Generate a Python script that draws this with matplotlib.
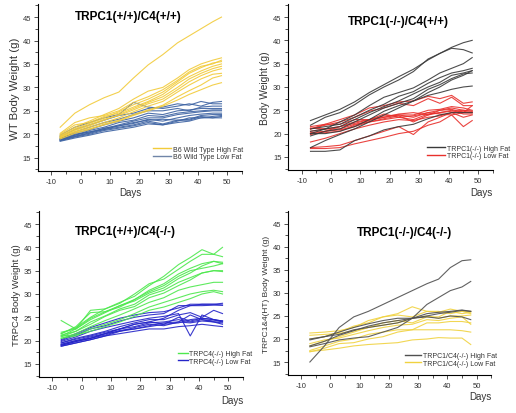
import numpy as np
import matplotlib
matplotlib.use("Agg")
import matplotlib.pyplot as plt
from matplotlib.lines import Line2D
from matplotlib.ticker import MultipleLocator

plt.rcParams['font.family'] = ['Liberation Sans', 'DejaVu Sans']
plt.rcParams['axes.unicode_minus'] = False

days = [-7, -2, 3, 8, 13, 18, 23, 28, 33, 37, 41, 45, 48]

# TRPC1(+/+)/C4(+/+)
wt_high = [
    [21.5, 24.5, 26.3, 27.8, 29.0, 32.0, 34.8, 37.0, 39.5, 41.0, 42.5, 44.0, 45.0],
    [19.8, 21.5, 22.8, 24.2, 25.5, 27.5, 29.2, 30.0, 32.0, 33.8, 35.0, 35.8, 36.3],
    [19.5, 21.2, 22.3, 23.5, 24.8, 26.3, 27.5, 29.0, 31.2, 33.0, 34.2, 35.2, 35.5],
    [20.0, 22.0, 22.5, 23.8, 24.5, 25.8, 27.0, 28.5, 30.8, 32.3, 33.5, 34.5, 35.0],
    [19.2, 20.8, 21.8, 23.0, 24.2, 25.5, 26.8, 28.0, 30.0, 31.8, 33.0, 34.0, 34.5],
    [19.6, 21.0, 22.0, 23.2, 24.0, 25.2, 26.5, 27.5, 29.5, 31.2, 32.5, 33.5, 34.0],
    [19.4, 20.5, 21.5, 22.5, 23.5, 24.8, 26.0, 27.0, 29.0, 30.5, 31.8, 32.8, 33.0],
    [19.0, 20.2, 21.0, 22.2, 23.0, 24.2, 25.2, 26.2, 28.0, 29.3, 30.5, 32.0, 32.5],
    [19.3, 20.5, 21.2, 22.0, 22.8, 24.0, 25.0, 26.0, 27.3, 28.5, 29.5, 30.5, 31.0],
    [20.2, 22.5, 23.5, 24.0, 25.0, 26.8, 28.0, 29.5, 31.5, 33.3, 34.5, 35.0, 35.8],
]
wt_low = [
    [19.8, 21.5, 22.5, 23.5, 24.2, 26.8, 25.8, 25.5, 26.0, 26.5, 26.0, 26.8, 27.0],
    [19.5, 21.0, 22.0, 23.0, 24.0, 24.5, 25.5, 25.8, 26.5, 26.2, 27.0, 26.5, 26.5],
    [19.0, 20.5, 21.5, 22.5, 23.2, 24.2, 25.0, 25.0, 25.5, 25.0, 25.8, 26.0, 26.0],
    [19.2, 20.2, 21.0, 22.0, 22.8, 23.5, 24.5, 24.2, 25.0, 25.2, 25.5, 25.5, 25.5],
    [18.8, 19.8, 20.8, 21.5, 22.5, 23.0, 24.0, 23.8, 24.5, 24.8, 25.0, 25.2, 25.2],
    [19.0, 20.0, 20.5, 21.2, 22.0, 22.8, 23.5, 23.5, 24.2, 24.5, 24.8, 25.0, 25.0],
    [18.7, 19.5, 20.2, 21.0, 21.8, 22.3, 23.2, 22.8, 23.5, 24.0, 24.3, 24.5, 24.5],
    [18.9, 19.8, 20.5, 21.0, 21.5, 22.0, 22.8, 22.2, 23.0, 23.2, 24.0, 24.2, 24.2],
    [18.6, 19.4, 20.0, 20.8, 21.3, 21.8, 22.5, 22.0, 22.8, 23.5, 23.5, 23.8, 24.0],
    [18.8, 19.6, 20.3, 21.3, 21.8, 22.5, 23.0, 23.2, 23.0, 23.0, 23.8, 23.5, 23.8],
    [18.5, 19.2, 19.8, 20.5, 21.0, 21.5, 22.2, 22.0, 22.5, 22.8, 23.5, 23.5, 23.5],
]

# TRPC1(-/-)/C4(+/+)
c1_high = [
    [22.8, 24.0, 25.2, 26.8, 28.8, 30.5, 32.2, 33.8, 35.8, 37.2, 38.5, 39.5, 40.0],
    [21.8, 23.5, 24.5, 26.2, 28.3, 30.0, 31.5, 33.3, 36.0, 37.2, 38.3, 38.0, 37.3],
    [20.0, 21.0, 22.5, 24.0, 26.0, 27.8, 28.8, 29.8, 31.5, 33.0, 34.0, 35.0, 36.3],
    [21.0, 21.5, 22.0, 23.5, 25.0, 26.3, 28.0, 29.0, 30.8, 32.0, 33.0, 33.5, 34.0],
    [20.5, 21.0, 21.5, 23.0, 24.5, 25.8, 27.0, 28.5, 30.0, 31.0, 32.5, 33.0, 33.5],
    [19.5, 20.5, 21.0, 22.5, 24.0, 25.5, 26.5, 27.5, 29.5, 30.5, 31.8, 32.8, 33.0],
    [20.0, 20.0, 20.5, 21.5, 23.0, 24.8, 26.0, 27.0, 28.2, 28.8, 29.5, 30.0, 30.2],
    [16.2, 16.2, 16.5, 18.5, 19.5, 20.8, 21.5, 22.0, 23.2, 24.0, 24.5, 24.5, 24.5],
    [17.0, 18.5, 19.8, 21.0, 22.5, 24.0, 25.5, 27.0, 28.8, 30.0, 31.5, 32.5, 33.5],
]
c1_low = [
    [21.5, 22.0, 23.0, 24.0, 25.5, 26.0, 26.8, 27.0, 28.0, 27.5, 28.2, 26.5, 26.8],
    [21.0, 21.8, 22.5, 23.5, 24.8, 25.5, 26.5, 26.0, 27.5, 26.5, 27.8, 26.0, 26.0],
    [20.5, 21.0, 21.5, 22.5, 23.0, 23.8, 24.0, 24.0, 25.0, 25.2, 25.8, 25.5, 25.0],
    [20.2, 20.5, 21.5, 22.2, 23.0, 23.5, 24.0, 23.5, 24.5, 25.0, 25.5, 25.0, 24.8],
    [21.2, 21.0, 21.0, 22.0, 22.5, 23.2, 23.8, 22.5, 24.0, 25.0, 25.2, 24.5, 24.5],
    [19.8, 20.5, 20.8, 21.5, 22.5, 23.0, 23.5, 23.0, 24.2, 24.5, 25.0, 24.2, 24.2],
    [20.0, 20.2, 20.5, 21.8, 22.8, 23.5, 24.2, 24.5, 24.0, 24.5, 24.8, 25.0, 24.8],
    [18.2, 19.0, 20.0, 21.0, 21.8, 22.5, 23.0, 22.8, 23.5, 23.8, 24.5, 24.8, 24.5],
    [17.0, 17.2, 17.5, 18.5, 19.5, 20.5, 21.5, 19.8, 22.5, 23.5, 24.5, 23.5, 24.0],
    [16.8, 16.8, 17.0, 17.8, 18.5, 19.2, 20.0, 20.5, 21.8, 22.5, 24.0, 21.5, 22.8],
    [21.0, 22.0, 22.0, 23.0, 23.0, 24.2, 23.5, 23.8, 24.5, 24.2, 24.0, 24.5, 26.0],
]

# TRPC1(+/+)/C4(-/-)
c4_high = [
    [24.3, 22.5, 26.5, 26.8, 28.2, 29.5, 31.8, 33.8, 36.3, 37.8, 39.5, 38.5, 40.0],
    [21.5, 22.8, 25.0, 26.8, 28.0, 30.0, 32.2, 33.2, 35.3, 37.0, 38.5, 38.5, 38.0],
    [21.0, 22.5, 24.5, 26.0, 27.5, 28.8, 30.8, 32.2, 34.3, 35.5, 36.5, 37.0, 36.5],
    [21.5, 23.0, 26.0, 26.2, 27.5, 28.5, 30.2, 31.3, 33.3, 34.5, 36.0, 37.0, 36.8],
    [20.8, 22.0, 24.0, 25.3, 26.8, 27.8, 29.8, 30.8, 32.5, 33.5, 34.5, 35.0, 35.0],
    [21.2, 22.0, 23.5, 25.2, 26.5, 27.3, 29.2, 30.2, 31.8, 33.0, 34.5, 35.0, 34.8],
    [20.5, 21.5, 23.0, 24.3, 25.5, 26.8, 28.2, 29.2, 30.8, 31.5, 32.0, 32.5, 32.5],
    [20.5, 21.0, 22.5, 23.5, 24.5, 25.8, 27.2, 28.2, 29.2, 30.0, 30.5, 30.8, 30.5],
    [21.0, 21.2, 22.0, 23.0, 24.0, 25.2, 26.5, 27.2, 28.2, 29.0, 30.0, 30.5, 30.0],
    [21.8, 22.5, 24.8, 26.2, 27.2, 28.8, 30.5, 31.8, 33.8, 35.0, 35.5, 36.0, 36.5],
]
c4_low = [
    [20.2, 21.5, 22.8, 23.8, 24.8, 25.5, 26.0, 26.2, 27.0, 27.8, 27.8, 27.8, 28.0],
    [20.0, 21.2, 22.5, 23.2, 24.2, 25.0, 25.5, 25.8, 27.5, 27.5, 27.5, 27.6, 27.6],
    [19.8, 20.8, 22.0, 22.8, 23.5, 24.2, 24.8, 25.2, 25.8, 21.0, 25.5, 24.5, 24.2],
    [19.5, 20.5, 21.2, 22.0, 23.0, 23.8, 24.5, 24.5, 25.5, 26.0, 25.0, 26.5, 25.8],
    [19.5, 20.3, 21.0, 21.8, 22.5, 23.5, 24.0, 23.5, 25.0, 24.2, 24.8, 24.5, 24.0],
    [19.2, 20.0, 20.8, 21.5, 22.5, 23.0, 23.8, 24.0, 24.5, 24.0, 24.5, 24.2, 24.2],
    [19.0, 19.8, 20.5, 21.5, 22.0, 22.8, 23.5, 23.2, 24.0, 23.8, 24.2, 24.0, 23.5],
    [19.0, 19.8, 20.5, 21.2, 22.2, 22.5, 23.2, 23.8, 24.0, 25.5, 24.5, 24.0, 23.8],
    [18.8, 19.5, 20.2, 21.0, 21.5, 22.0, 22.5, 22.5, 23.0, 23.2, 23.5, 23.2, 23.0],
    [19.2, 20.0, 20.5, 21.5, 22.5, 23.5, 24.0, 24.8, 26.5, 27.5, 27.8, 27.8, 27.6],
    [18.8, 19.5, 20.2, 21.0, 22.0, 22.5, 23.0, 23.5, 23.8, 24.5, 24.8, 24.5, 24.2],
]

# TRPC1(-/-)/C4(-/-)
dko_high = [
    [15.0, 18.5, 22.5, 24.8, 26.0, 27.5, 29.0, 30.5, 32.0, 33.0, 35.5, 37.0, 37.2],
    [18.3, 19.0, 19.8, 20.2, 20.5, 21.5, 22.5, 24.5, 27.5, 29.0, 30.5, 31.3, 32.5],
    [20.0, 20.5, 21.5, 22.5, 23.3, 24.0, 24.5, 24.5, 25.0, 25.5, 25.8, 26.2, 26.0],
    [18.5, 19.5, 20.8, 21.8, 22.8, 23.5, 24.0, 24.5, 24.8, 24.5, 25.0, 24.8, 24.2],
    [19.8, 20.5, 21.0, 22.0, 22.5, 23.0, 23.5, 24.5, 25.5, 25.8, 26.0, 26.3, 26.0],
]
dko_low = [
    [21.3, 21.5, 21.8, 22.5, 24.0, 24.8, 25.2, 24.8, 26.0, 25.8, 26.5, 26.0, 26.0],
    [20.0, 20.5, 21.5, 22.8, 23.5, 24.8, 25.5, 27.0, 26.0, 26.0, 25.5, 26.0, 25.5],
    [18.5, 19.5, 20.5, 21.5, 22.5, 23.0, 23.5, 24.5, 25.0, 24.5, 25.0, 25.0, 25.2],
    [19.0, 19.8, 20.2, 21.0, 21.8, 22.5, 23.0, 23.2, 24.2, 24.0, 24.5, 24.8, 23.2],
    [17.5, 18.5, 19.5, 20.0, 21.0, 21.5, 22.0, 22.0, 23.5, 23.5, 23.8, 23.8, 23.5],
    [17.2, 18.0, 19.0, 19.2, 20.0, 20.5, 21.5, 22.0, 22.0, 22.0, 22.0, 21.8, 21.5],
    [17.3, 17.6, 18.0, 18.5, 18.8, 19.0, 19.2, 19.8, 20.0, 20.3, 20.2, 20.2, 18.8],
    [20.8, 21.0, 21.2, 21.8, 22.5, 23.5, 24.0, 23.5, 24.8, 24.8, 26.0, 25.5, 25.8],
]

panels = [
    dict(pos=[0.074, 0.585, 0.395, 0.403], high=wt_high, low=wt_low,
         c_high='#f2cb3a', c_low='#3d63a3', c_low_leg='#7085a8',
         title='TRPC1(+/+)/C4(+/+)', tpos=(0.44, 0.93),
         ylabel='WT Body Weight (g)', ylsize=8.2,
         labels=['B6 Wild Type High Fat', 'B6 Wild Type Low Fat'],
         lpos=(0.565, 0.065), lsize=5, hlen=2.6,
         xl=(0.45, -0.10), xl_ha='center'),
    dict(pos=[0.559, 0.587, 0.396, 0.401], high=c1_high, low=c1_low,
         c_high='#3a3a3a', c_low='#e8302c', c_low_leg='#e8302c',
         title='TRPC1(-/-)/C4(+/+)', tpos=(0.54, 0.90),
         ylabel='Body Weight (g)', ylsize=7.4,
         labels=['TRPC1(-/-) High Fat', 'TRPC1(-/-) Low Fat'],
         lpos=(0.68, 0.065), lsize=5, hlen=2.6,
         xl=(1.0, -0.10), xl_ha='right'),
    dict(pos=[0.076, 0.087, 0.395, 0.401], high=c4_high, low=c4_low,
         c_high='#4de84d', c_low='#2525c8', c_low_leg='#2525c8',
         title='TRPC1(+/+)/C4(-/-)', tpos=(0.425, 0.88),
         ylabel='TRPC4 Body Weight (g)', ylsize=6.8,
         labels=['TRPC4(-/-) High Fat', 'TRPC4(-/-) Low Fat'],
         lpos=(0.68, 0.075), lsize=5, hlen=1.4,
         xl=(1.0, -0.11), xl_ha='right'),
    dict(pos=[0.558, 0.092, 0.394, 0.396], high=dko_high, low=dko_low,
         c_high='#505050', c_low='#f0d240', c_low_leg='#f0d240',
         title='TRPC1(-/-)/C4(-/-)', tpos=(0.575, 0.87),
         ylabel='TRPC1&4(HT) Body Weight (g)', ylsize=6.0,
         labels=['TRPC1/C4(-/-) High Fat', 'TRPC1/C4(-/-) Low Fat'],
         lpos=(0.575, 0.05), lsize=5, hlen=2.4,
         xl=(1.0, -0.10), xl_ha='right'),
]

fig = plt.figure(figsize=(5.16, 4.14), dpi=100)

for p in panels:
    ax = fig.add_axes(p['pos'])
    for s in p['low']:
        ax.plot(days, s, color=p['c_low'], lw=0.8, alpha=0.9)
    for s in p['high']:
        ax.plot(days, s, color=p['c_high'], lw=0.8, alpha=0.9)
    ax.set_xlim(-14.5, 55)
    ax.set_ylim(12.2, 47.8)
    ax.xaxis.set_major_locator(MultipleLocator(10))
    ax.xaxis.set_minor_locator(MultipleLocator(5))
    ax.yaxis.set_minor_locator(MultipleLocator(2.5))
    ax.set_yticks([15, 20, 25, 30, 35, 40, 45])
    for sp in ['top', 'right']:
        ax.spines[sp].set_visible(False)
    for sp in ['left', 'bottom']:
        ax.spines[sp].set_linewidth(0.8)
    ax.tick_params(which='major', labelsize=5.5, length=3, width=0.6,
                   colors='#333333', pad=2)
    ax.tick_params(which='minor', length=2, width=0.6, color='#333333')
    ax.text(p['tpos'][0], p['tpos'][1], p['title'], transform=ax.transAxes,
            ha='center', va='center', fontsize=8.5, fontweight='bold')
    ax.set_ylabel(p['ylabel'], fontsize=p['ylsize'], color='#333333', labelpad=2)
    ax.text(p['xl'][0], p['xl'][1], 'Days', transform=ax.transAxes,
            ha=p['xl_ha'], va='top', fontsize=7, color='#333333')
    handles = [Line2D([0], [0], color=p['c_high'], lw=1.0),
               Line2D([0], [0], color=p['c_low_leg'], lw=1.0)]
    ax.legend(handles, p['labels'], loc='lower left', bbox_to_anchor=p['lpos'],
              frameon=False, fontsize=p['lsize'], handlelength=p['hlen'],
              handletextpad=0.2, labelspacing=0.05, borderpad=0,
              borderaxespad=0, labelcolor='#333333')

fig.savefig('out.png', dpi=100)
